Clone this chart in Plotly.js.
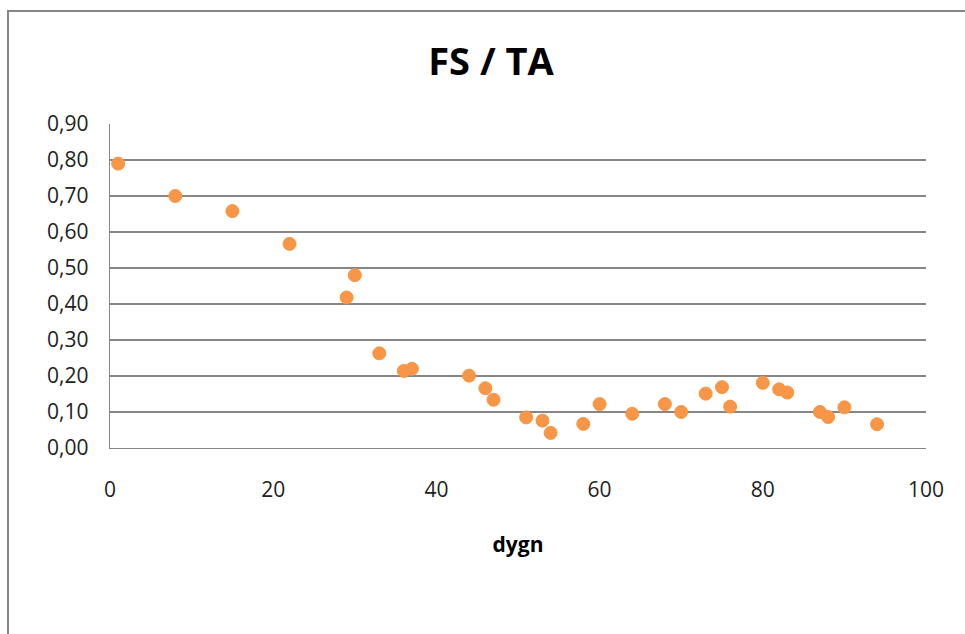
<!DOCTYPE html>
<html>
<head>
<meta charset="utf-8">
<script src="https://cdn.plot.ly/plotly-3.0.1.min.js"></script>
<style>
  html, body { margin: 0; padding: 0; background: #fff; overflow: hidden; }
  #chart { position: absolute; left: 0; top: 0; width: 965px; height: 634px; }
  #frame { position: absolute; left: 7px; top: 10px; width: 1000px; height: 700px;
           border: 2px solid #878787; pointer-events: none; box-sizing: border-box; }
</style>
</head>
<body>
<div id="chart"></div>
<div id="frame"></div>
<script>
const dygn = [1, 8, 15, 22, 29, 30, 33, 36, 37, 44, 46, 47, 51, 53, 54, 58, 60, 64, 68, 70, 73, 75, 76, 80, 82, 83, 87, 88, 90, 94];
const fsTa = [0.79, 0.70, 0.658, 0.567, 0.418, 0.48, 0.263, 0.214, 0.22, 0.201, 0.166, 0.134, 0.085, 0.076, 0.042, 0.067, 0.122, 0.095, 0.122, 0.10, 0.151, 0.169, 0.115, 0.181, 0.163, 0.154, 0.10, 0.086, 0.113, 0.066];
const titleText = "FS / TA";
const xTitle = "dygn";
const yTickVals = [0, 0.1, 0.2, 0.3, 0.4, 0.5, 0.6, 0.7, 0.8, 0.9];
const xTickVals = [0, 20, 40, 60, 80, 100];

const trace = {
  x: dygn, y: fsTa, type: 'scatter', mode: 'markers',
  marker: { color: '#F79646', size: 13, line: { color: '#F79646', width: 1 } },
  hoverinfo: 'x+y'
};

const layout = {
  width: 965, height: 634,
  margin: { l: 110, r: 39, t: 124, b: 186 },
  paper_bgcolor: '#ffffff', plot_bgcolor: '#ffffff',
  separators: ',.',
  showlegend: false,
  font: { family: 'Open Sans, sans-serif', color: '#222222' },
  title: {
    text: titleText, font: { family: 'Open Sans, sans-serif', size: 38, color: '#000000', weight: 'bold' },
    xref: 'container', x: 491 / 965, xanchor: 'center',
    yref: 'container', y: 1 - 62 / 634, yanchor: 'middle'
  },
  xaxis: {
    range: [0, 100], tickvals: xTickVals, showgrid: false, zeroline: false,
    showline: true, linecolor: '#868686', linewidth: 1.3,
    ticks: '', ticklabelstandoff: 22,
    tickfont: { size: 21, color: '#222222' },
    title: { text: xTitle, font: { size: 21, weight: 'bold', color: '#000000' }, standoff: 35 }
  },
  yaxis: {
    range: [0, 0.9], tickvals: yTickVals, tickformat: '.2f',
    showgrid: true, gridcolor: '#868686', gridwidth: 1.3, zeroline: false,
    showline: true, linecolor: '#868686', linewidth: 1.3,
    ticks: '', ticklabelstandoff: 16,
    tickfont: { size: 21, color: '#222222' }
  }
};

Plotly.newPlot('chart', [trace], layout, { displayModeBar: false, staticPlot: true });
</script>
</body>
</html>
